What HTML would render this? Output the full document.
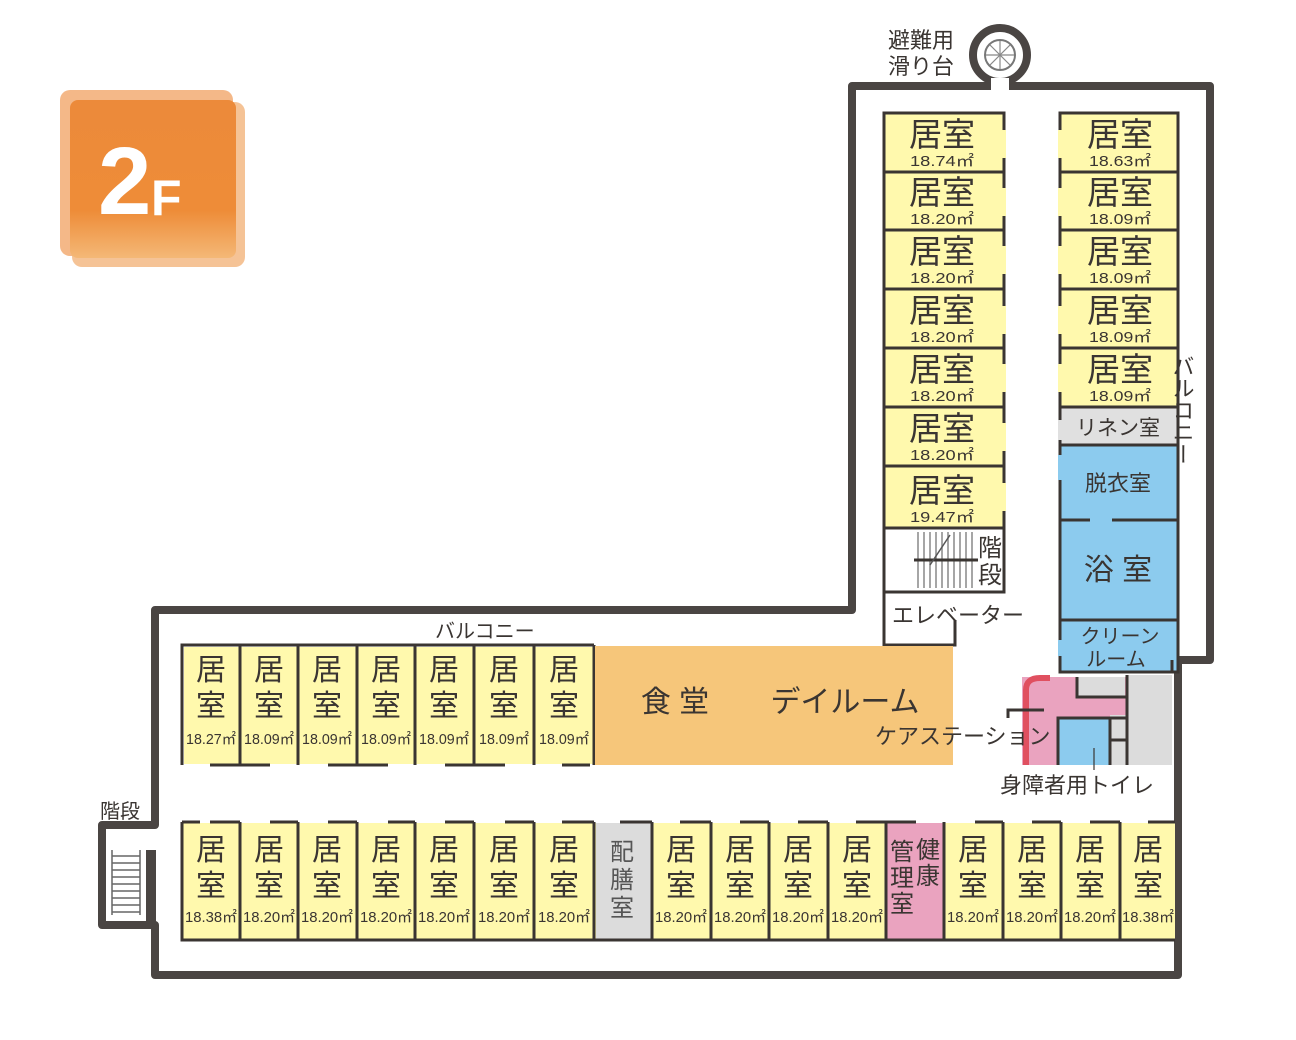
<!DOCTYPE html>
<html><head><meta charset="utf-8"><style>
html,body{margin:0;padding:0;background:#fff}
svg{display:block}
text{font-family:"Liberation Sans","Noto Sans CJK JP",sans-serif;fill:#3a3532}
.b{font-size:30px;text-anchor:middle}
.t{font-size:33px;text-anchor:middle}
.a{font-size:15px;text-anchor:middle}
</style></head><body>
<svg width="1296" height="1040" viewBox="0 0 1296 1040" xmlns="http://www.w3.org/2000/svg">
<defs>
<linearGradient id="og" x1="0" y1="0" x2="0" y2="1">
<stop offset="0" stop-color="#ec8a3a"/><stop offset="0.7" stop-color="#ee8c38"/><stop offset="1" stop-color="#f4b877"/>
</linearGradient>
</defs>
<!-- badge -->
<rect x="60" y="90" width="173" height="166" rx="10" fill="#f0a060" opacity="0.75"/>
<rect x="72" y="102" width="173" height="165" rx="10" fill="#f3b47c" opacity="0.8"/>
<rect x="70" y="100" width="166" height="158" rx="8" fill="url(#og)"/>
<text x="98" y="214" style="font-size:96px;font-weight:bold;fill:#fff">2</text>
<text x="151" y="215" style="font-size:50px;font-weight:bold;fill:#fff">F</text>

<!-- outer wall -->
<path d="M155,975 L155,925 L102,925 L102,825 L155,825 L155,610 L852,610 L852,86 L1210,86 L1210,660 L1178,660 L1178,975 Z" fill="#fff" stroke="#4a4543" stroke-width="8" stroke-linejoin="round"/>
<rect x="146" y="850" width="10" height="75" fill="#4a4543"/>
<g stroke="#666" stroke-width="1.5">
<line x1="112" y1="850" x2="112" y2="915"/><line x1="140" y1="850" x2="140" y2="915"/>
<line x1="112" y1="856" x2="140" y2="856"/><line x1="112" y1="863" x2="140" y2="863"/><line x1="112" y1="870" x2="140" y2="870"/><line x1="112" y1="877" x2="140" y2="877"/><line x1="112" y1="884" x2="140" y2="884"/><line x1="112" y1="891" x2="140" y2="891"/><line x1="112" y1="898" x2="140" y2="898"/><line x1="112" y1="905" x2="140" y2="905"/><line x1="112" y1="912" x2="140" y2="912"/>
</g>
<text x="100" y="818" style="font-size:20px">階段</text>
<!-- slide -->
<circle cx="1000" cy="55" r="27" fill="#fff" stroke="#4a4543" stroke-width="8"/>
<rect x="991" y="78" width="18" height="14" fill="#fff"/>
<circle cx="1000" cy="55" r="15" fill="#fff" stroke="#777" stroke-width="2"/>
<g stroke="#888" stroke-width="1.2"><line x1="986" y1="55" x2="1014" y2="55"/><line x1="1000" y1="41" x2="1000" y2="69"/><line x1="990" y1="45" x2="1010" y2="65"/><line x1="1010" y1="45" x2="990" y2="65"/></g>
<text x="888" y="48" style="font-size:22px">避難用</text>
<text x="888" y="74" style="font-size:22px">滑り台</text>

<g stroke="#3a3532" stroke-width="3">
<rect x="884" y="113" width="120" height="59" fill="#fff9ad"/>
<rect x="884" y="172" width="120" height="58" fill="#fff9ad"/>
<rect x="884" y="230" width="120" height="59" fill="#fff9ad"/>
<rect x="884" y="289" width="120" height="59" fill="#fff9ad"/>
<rect x="884" y="348" width="120" height="59" fill="#fff9ad"/>
<rect x="884" y="407" width="120" height="59" fill="#fff9ad"/>
<rect x="884" y="466" width="120" height="62" fill="#fff9ad"/>
<rect x="884" y="528" width="120" height="64" fill="#fff"/>
<path d="M884,592 L884,645 L955,645 L955,620" fill="none"/>
<rect x="1060" y="113" width="118" height="59" fill="#fff9ad"/>
<rect x="1060" y="172" width="118" height="58" fill="#fff9ad"/>
<rect x="1060" y="230" width="118" height="59" fill="#fff9ad"/>
<rect x="1060" y="289" width="118" height="59" fill="#fff9ad"/>
<rect x="1060" y="348" width="118" height="59" fill="#fff9ad"/>
<rect x="1060" y="407" width="118" height="38" fill="#e0e0e0"/>
<rect x="1060" y="445" width="118" height="75" fill="#8ccbee"/>
<rect x="1060" y="520" width="118" height="100" fill="#8ccbee"/>
<rect x="1060" y="620" width="118" height="52" fill="#8ccbee"/>
</g>
<!-- door gaps top wing -->
<g fill="#fff9ad">
<rect x="1002" y="130" width="4" height="28"/><rect x="1002" y="188" width="4" height="28"/><rect x="1002" y="246" width="4" height="28"/><rect x="1002" y="306" width="4" height="28"/><rect x="1002" y="364" width="4" height="28"/><rect x="1002" y="423" width="4" height="28"/><rect x="1002" y="483" width="4" height="28"/>
<rect x="1058" y="130" width="4" height="28"/><rect x="1058" y="188" width="4" height="28"/><rect x="1058" y="246" width="4" height="28"/><rect x="1058" y="306" width="4" height="28"/><rect x="1058" y="364" width="4" height="28"/>
</g>
<g>
<rect x="1058" y="420" width="4" height="20" fill="#e0e0e0"/><rect x="1058" y="455" width="4" height="25" fill="#8ccbee"/><rect x="1058" y="640" width="4" height="16" fill="#8ccbee"/>
<rect x="1090" y="516" width="22" height="8" fill="#8ccbee"/>
</g>
<!-- stairs lines -->
<g stroke="#888" stroke-width="1.5">
<line x1="918" y1="532" x2="918" y2="588"/><line x1="924" y1="532" x2="924" y2="588"/><line x1="930" y1="532" x2="930" y2="588"/><line x1="936" y1="532" x2="936" y2="588"/><line x1="942" y1="532" x2="942" y2="588"/><line x1="948" y1="532" x2="948" y2="588"/><line x1="954" y1="532" x2="954" y2="588"/><line x1="960" y1="532" x2="960" y2="588"/><line x1="966" y1="532" x2="966" y2="588"/><line x1="972" y1="532" x2="972" y2="588"/>
</g>
<line x1="914" y1="560" x2="978" y2="560" stroke="#3a3532" stroke-width="3"/>
<line x1="930" y1="565" x2="950" y2="535" stroke="#555" stroke-width="1.5"/>
<rect x="978" y="530" width="24" height="60" fill="#fff"/>
<text x="990" y="556" style="font-size:24px;text-anchor:middle">階</text>
<text x="990" y="583" style="font-size:24px;text-anchor:middle">段</text>
<text x="892" y="623" style="font-size:22px">エレベーター</text>

<g>
<text class="t" x="942" y="146">居室</text><text class="a" x="942" y="166" textLength="64" lengthAdjust="spacingAndGlyphs">18.74㎡</text>
<text class="t" x="942" y="204">居室</text><text class="a" x="942" y="224" textLength="64" lengthAdjust="spacingAndGlyphs">18.20㎡</text>
<text class="t" x="942" y="263">居室</text><text class="a" x="942" y="283" textLength="64" lengthAdjust="spacingAndGlyphs">18.20㎡</text>
<text class="t" x="942" y="322">居室</text><text class="a" x="942" y="342" textLength="64" lengthAdjust="spacingAndGlyphs">18.20㎡</text>
<text class="t" x="942" y="381">居室</text><text class="a" x="942" y="401" textLength="64" lengthAdjust="spacingAndGlyphs">18.20㎡</text>
<text class="t" x="942" y="440">居室</text><text class="a" x="942" y="460" textLength="64" lengthAdjust="spacingAndGlyphs">18.20㎡</text>
<text class="t" x="942" y="502">居室</text><text class="a" x="942" y="522" textLength="64" lengthAdjust="spacingAndGlyphs">19.47㎡</text>
<text class="t" x="1120" y="146">居室</text><text class="a" x="1120" y="166" textLength="62" lengthAdjust="spacingAndGlyphs">18.63㎡</text>
<text class="t" x="1120" y="204">居室</text><text class="a" x="1120" y="224" textLength="62" lengthAdjust="spacingAndGlyphs">18.09㎡</text>
<text class="t" x="1120" y="263">居室</text><text class="a" x="1120" y="283" textLength="62" lengthAdjust="spacingAndGlyphs">18.09㎡</text>
<text class="t" x="1120" y="322">居室</text><text class="a" x="1120" y="342" textLength="62" lengthAdjust="spacingAndGlyphs">18.09㎡</text>
<text class="t" x="1120" y="381">居室</text><text class="a" x="1120" y="401" textLength="62" lengthAdjust="spacingAndGlyphs">18.09㎡</text>
<text x="1118" y="435" style="font-size:21px;text-anchor:middle">リネン室</text>
<text x="1118" y="491" style="font-size:22px;text-anchor:middle">脱衣室</text>
<text x="1118" y="580" style="font-size:30px;text-anchor:middle">浴 室</text>
<text x="1120" y="643" style="font-size:20px;text-anchor:middle">クリーン</text>
<text x="1116" y="666" style="font-size:20px;text-anchor:middle">ルーム</text>
</g>
<text x="1182" y="355" style="font-size:22px;writing-mode:vertical-rl">バルコニー</text>

<!-- bottom upper row -->
<rect x="184" y="647" width="409" height="117" fill="#fff9ad"/>
<g stroke="#3a3532" stroke-width="3" fill="none">
<path d="M182,765 L182,645 L594,645 M240,645 L240,765 M298,645 L298,765 M357,645 L357,765 M415,645 L415,765 M474,645 L474,765 M534,645 L534,765 M594,645 L594,765"/>
<path d="M210,765 L270,765 M328,765 L388,765 M445,765 L505,765 M562,765 L590,765"/>
</g>
<rect x="595" y="646" width="358" height="119" fill="#f6c67a"/>
<text x="675" y="712" style="font-size:30px;text-anchor:middle">食 堂</text>
<text x="845" y="712" style="font-size:30px;text-anchor:middle">デイルーム</text>
<!-- care station cluster -->
<rect x="1022" y="677" width="105" height="88" fill="#eaa3bf"/>
<path d="M1026,765 L1026,690 Q1026,678 1040,678 L1050,678" stroke="#e05060" stroke-width="6" fill="none"/>
<rect x="1077" y="677" width="48" height="20" fill="#dcdcdc"/>
<rect x="1127" y="675" width="45" height="90" fill="#dcdcdc"/>
<rect x="1110" y="715" width="17" height="50" fill="#dcdcdc"/>
<rect x="1058" y="718" width="52" height="47" fill="#8ccbee"/>
<g stroke="#3a3532" stroke-width="3" fill="none">
<path d="M1077,677 L1077,697 L1127,697"/><path d="M1060,672 L1172,672 L1172,660"/>
<path d="M1127,675 L1127,765"/><path d="M1058,765 L1058,718 L1127,718"/><path d="M1110,718 L1110,765"/><path d="M1110,740 L1127,740"/>
<path d="M1008,718 L1008,710 L1044,710"/>
<line x1="1094" y1="748" x2="1094" y2="770" stroke-width="1.2"/>
</g>
<text x="875" y="744" style="font-size:22px">ケアステーション</text>
<text x="1000" y="793" style="font-size:22px">身障者用トイレ</text>
<text x="435" y="638" style="font-size:20px">バルコニー</text>

<!-- bottom lower row -->
<rect x="183" y="823" width="992" height="116" fill="#fff9ad"/>
<rect x="596" y="823" width="56" height="116" fill="#dcdcdc"/>
<rect x="887" y="823" width="57" height="116" fill="#eaa3bf"/>
<g stroke="#3a3532" stroke-width="3" fill="none">
<path d="M182,822 L182,940 L1175,940"/>
<path d="M240,822 L240,940 M298,822 L298,940 M357,822 L357,940 M415,822 L415,940 M474,822 L474,940 M534,822 L534,940 M594,822 L594,940 M652,822 L652,940 M711,822 L711,940 M769,822 L769,940 M828,822 L828,940 M886,822 L886,940 M944,822 L944,940 M1003,822 L1003,940 M1061,822 L1061,940 M1120,822 L1120,940"/>
<path d="M182,822 L200,822 M210,822 L240,822 M270,822 L298,822 M328,822 L357,822 M388,822 L415,822 M445,822 L474,822 M505,822 L534,822 M562,822 L594,822 M620,822 L652,822 M680,822 L711,822 M740,822 L769,822 M798,822 L828,822 M856,822 L886,822 M886,822 L916,822 M975,822 L1003,822 M1032,822 L1061,822 M1090,822 L1120,822 M1148,822 L1175,822"/>
</g>
<g>
<text class="b" x="211" y="680">居</text><text class="b" x="211" y="716">室</text><text class="a" x="211" y="744" textLength="50" lengthAdjust="spacingAndGlyphs">18.27㎡</text>
<text class="b" x="269" y="680">居</text><text class="b" x="269" y="716">室</text><text class="a" x="269" y="744" textLength="50" lengthAdjust="spacingAndGlyphs">18.09㎡</text>
<text class="b" x="327" y="680">居</text><text class="b" x="327" y="716">室</text><text class="a" x="327" y="744" textLength="50" lengthAdjust="spacingAndGlyphs">18.09㎡</text>
<text class="b" x="386" y="680">居</text><text class="b" x="386" y="716">室</text><text class="a" x="386" y="744" textLength="50" lengthAdjust="spacingAndGlyphs">18.09㎡</text>
<text class="b" x="444" y="680">居</text><text class="b" x="444" y="716">室</text><text class="a" x="444" y="744" textLength="50" lengthAdjust="spacingAndGlyphs">18.09㎡</text>
<text class="b" x="504" y="680">居</text><text class="b" x="504" y="716">室</text><text class="a" x="504" y="744" textLength="50" lengthAdjust="spacingAndGlyphs">18.09㎡</text>
<text class="b" x="564" y="680">居</text><text class="b" x="564" y="716">室</text><text class="a" x="564" y="744" textLength="50" lengthAdjust="spacingAndGlyphs">18.09㎡</text>

<text class="b" x="211" y="860">居</text><text class="b" x="211" y="896">室</text><text class="a" x="211" y="922" textLength="52" lengthAdjust="spacingAndGlyphs">18.38㎡</text>
<text class="b" x="269" y="860">居</text><text class="b" x="269" y="896">室</text><text class="a" x="269" y="922" textLength="52" lengthAdjust="spacingAndGlyphs">18.20㎡</text>
<text class="b" x="327" y="860">居</text><text class="b" x="327" y="896">室</text><text class="a" x="327" y="922" textLength="52" lengthAdjust="spacingAndGlyphs">18.20㎡</text>
<text class="b" x="386" y="860">居</text><text class="b" x="386" y="896">室</text><text class="a" x="386" y="922" textLength="52" lengthAdjust="spacingAndGlyphs">18.20㎡</text>
<text class="b" x="444" y="860">居</text><text class="b" x="444" y="896">室</text><text class="a" x="444" y="922" textLength="52" lengthAdjust="spacingAndGlyphs">18.20㎡</text>
<text class="b" x="504" y="860">居</text><text class="b" x="504" y="896">室</text><text class="a" x="504" y="922" textLength="52" lengthAdjust="spacingAndGlyphs">18.20㎡</text>
<text class="b" x="564" y="860">居</text><text class="b" x="564" y="896">室</text><text class="a" x="564" y="922" textLength="52" lengthAdjust="spacingAndGlyphs">18.20㎡</text>
<text x="622" y="860" style="font-size:24px;text-anchor:middle;fill:#555">配</text><text x="622" y="888" style="font-size:24px;text-anchor:middle;fill:#555">膳</text><text x="622" y="916" style="font-size:24px;text-anchor:middle;fill:#555">室</text>
<text class="b" x="681" y="860">居</text><text class="b" x="681" y="896">室</text><text class="a" x="681" y="922" textLength="52" lengthAdjust="spacingAndGlyphs">18.20㎡</text>
<text class="b" x="740" y="860">居</text><text class="b" x="740" y="896">室</text><text class="a" x="740" y="922" textLength="52" lengthAdjust="spacingAndGlyphs">18.20㎡</text>
<text class="b" x="798" y="860">居</text><text class="b" x="798" y="896">室</text><text class="a" x="798" y="922" textLength="52" lengthAdjust="spacingAndGlyphs">18.20㎡</text>
<text class="b" x="857" y="860">居</text><text class="b" x="857" y="896">室</text><text class="a" x="857" y="922" textLength="52" lengthAdjust="spacingAndGlyphs">18.20㎡</text>
<text x="928" y="858" style="font-size:24px;text-anchor:middle">健</text><text x="928" y="884" style="font-size:24px;text-anchor:middle">康</text>
<text x="902" y="860" style="font-size:24px;text-anchor:middle">管</text><text x="902" y="886" style="font-size:24px;text-anchor:middle">理</text><text x="902" y="912" style="font-size:24px;text-anchor:middle">室</text>
<text class="b" x="973" y="860">居</text><text class="b" x="973" y="896">室</text><text class="a" x="973" y="922" textLength="52" lengthAdjust="spacingAndGlyphs">18.20㎡</text>
<text class="b" x="1032" y="860">居</text><text class="b" x="1032" y="896">室</text><text class="a" x="1032" y="922" textLength="52" lengthAdjust="spacingAndGlyphs">18.20㎡</text>
<text class="b" x="1090" y="860">居</text><text class="b" x="1090" y="896">室</text><text class="a" x="1090" y="922" textLength="52" lengthAdjust="spacingAndGlyphs">18.20㎡</text>
<text class="b" x="1148" y="860">居</text><text class="b" x="1148" y="896">室</text><text class="a" x="1148" y="922" textLength="52" lengthAdjust="spacingAndGlyphs">18.38㎡</text>
</g>
</svg>
</body></html>
